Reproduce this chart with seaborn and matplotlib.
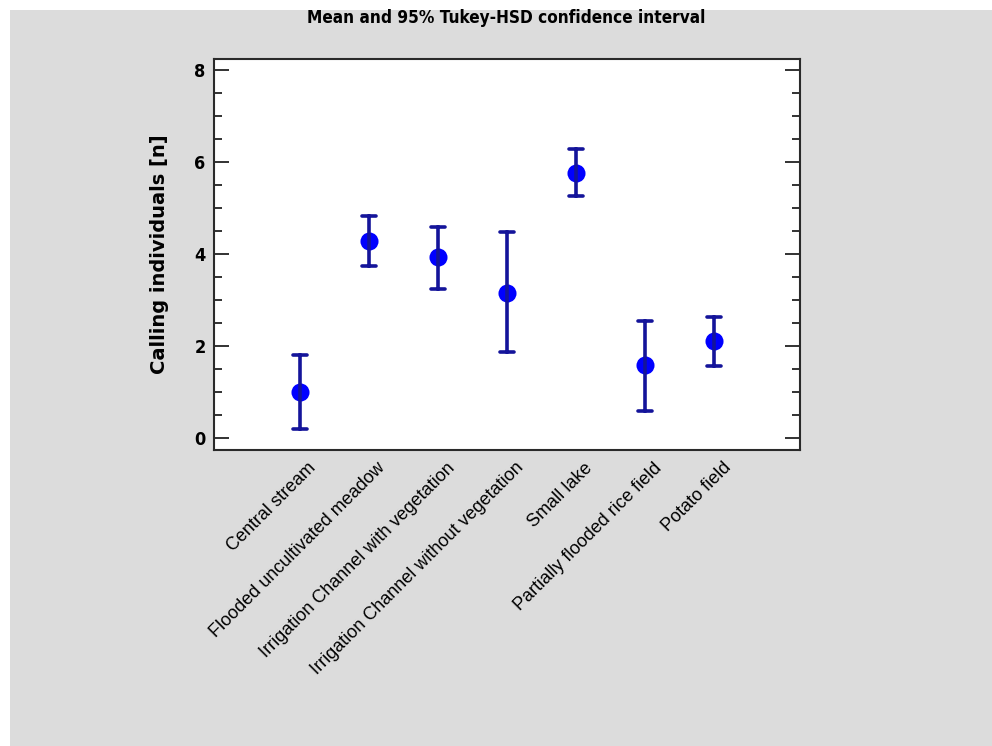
import numpy as np
import pandas as pd
import matplotlib
matplotlib.use("Agg")
import matplotlib.pyplot as plt
import matplotlib.patches as mpatches
from matplotlib.ticker import MultipleLocator
from matplotlib.transforms import ScaledTranslation
import seaborn as sns

# habitats and Tukey-HSD intervals
habitats = ["Central stream", "Flooded uncultivated meadow",
            "Irrigation Channel with vegetation",
            "Irrigation Channel without vegetation", "Small lake",
            "Partially flooded rice field", "Potato field"]
means = [1.00, 4.29, 3.94, 3.16, 5.76, 1.58, 2.11]
lower = [0.18, 3.75, 3.23, 1.86, 5.27, 0.59, 1.56]
upper = [1.81, 4.83, 4.59, 4.47, 6.28, 2.54, 2.63]

# long table: lower / mean / upper per habitat -> median = mean, min/max = interval
df = pd.DataFrame({
    "habitat": np.repeat(habitats, 3),
    "value": np.ravel(np.column_stack([lower, means, upper])),
})

sns.set_style("ticks")
plt.rcParams["font.family"] = ["DejaVu Sans"]
plt.rcParams.update({"text.color": "black", "axes.labelcolor": "black",
                     "xtick.color": "black", "ytick.color": "#222222",
                     "xtick.labelcolor": "black", "ytick.labelcolor": "black"})

fig = plt.figure(figsize=(9.92, 7.46), dpi=100, facecolor="white")
fig.patches.append(mpatches.Rectangle((10 / 992, 0), 1, 736 / 746,
                                      transform=fig.transFigure,
                                      facecolor="#dcdcdc", edgecolor="none",
                                      zorder=-10))
ax = fig.add_axes([214 / 992, 1 - 450 / 746, 586 / 992, 391 / 746])
ax.set_facecolor("white")

sns.pointplot(data=df, x="habitat", y="value", estimator="median",
              errorbar=lambda v: (v.min(), v.max()), capsize=0.2,
              linestyle="none", color="#0000ff", markersize=13,
              markeredgewidth=0,
              err_kws={"color": "#14149a", "linewidth": 2.6}, ax=ax)

ax.set_xlim(-1.24, 7.24)
ax.set_ylim(-0.27, 8.25)
ax.yaxis.set_major_locator(MultipleLocator(2))
ax.yaxis.set_minor_locator(MultipleLocator(0.5))
ax.tick_params(axis="y", which="major", direction="in", length=11,
               width=1.3, right=True, labelsize=13, pad=6)
ax.tick_params(axis="y", which="minor", direction="in", length=6,
               width=1.3, right=True)
ax.tick_params(axis="x", length=0, pad=11)
for lab in ax.get_yticklabels():
    lab.set_fontweight("bold")
    lab.set_fontstretch("condensed")
for s in ax.spines.values():
    s.set_visible(True)
    s.set_linewidth(1.5)
    s.set_color("#2a2a2a")

ax.set_xticks(range(len(habitats)))
ax.set_xticklabels(habitats, rotation=45, ha="right", va="center",
                   rotation_mode="anchor", fontsize=13,
                   family=["Liberation Sans", "DejaVu Sans"])
shift = ScaledTranslation(14 / 100, 0, fig.dpi_scale_trans)
for lab in ax.get_xticklabels():
    lab.set_transform(lab.get_transform() + shift)
ax.set_xlabel("")
ax.set_ylabel("Calling individuals [n]", fontsize=14, fontweight="bold",
              labelpad=18)
fig.text(0.51, 1 - 18 / 746, "Mean and 95% Tukey-HSD confidence interval",
         ha="center", va="center", fontsize=12.3, fontweight="bold",
         fontstretch="condensed")

fig.savefig("out.png", dpi=100, facecolor=fig.get_facecolor())
